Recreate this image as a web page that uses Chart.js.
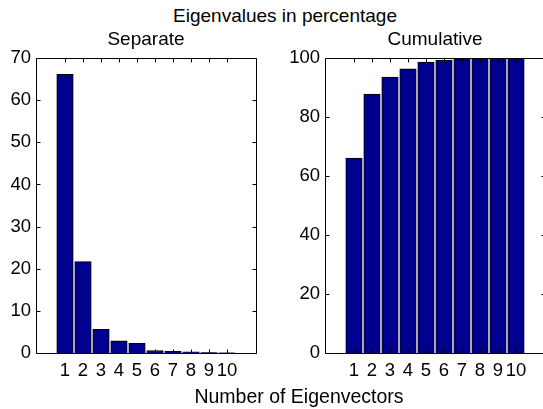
<!DOCTYPE html>
<html>
<head>
<meta charset="utf-8">
<title>Eigenvalues in percentage</title>
<script src="https://cdn.jsdelivr.net/npm/chart.js@4/dist/chart.umd.min.js"></script>
<style>
    body {
        margin: 0;
        width: 543px;
        height: 409px;
        overflow: hidden;
        position: relative;
        background: #fff;
        font-family: "Liberation Sans", Arial, Helvetica, sans-serif;
    }
    canvas { position: absolute; top: 0; }
    .rotulo {
        position: absolute;
        font-size: 19px;
        line-height: 19px;
        color: #000;
        white-space: nowrap;
        transform: translateX(-50%);
    }
</style>
</head>
<body>

<div class="rotulo" style="left: 285px; top: 6px;">Eigenvalues in percentage</div>
<canvas id="graficoSeparado" width="270" height="409" style="left: 0;"></canvas>
<canvas id="graficoCumulativo" width="290" height="409" style="left: 270px;"></canvas>
<div class="rotulo" style="left: 299px; top: 387px; font-size: 19.5px;">Number of Eigenvectors</div>

<script>
// eigenvalue share of each eigenvector, in percent
var eigenvectorNumbers = [1, 2, 3, 4, 5, 6, 7, 8, 9, 10];
var separatePercent = [66.1, 21.7, 5.6, 2.9, 2.3, 0.6, 0.4, 0.25, 0.1, 0.05];
var cumulativePercent = [66.1, 87.8, 93.5, 96.3, 98.6, 99.2, 99.7, 99.8, 99.9, 100];

var separateYTicks = [0, 10, 20, 30, 40, 50, 60, 70];
var cumulativeYTicks = [0, 20, 40, 60, 80, 100];
var xTickLabels = ['1', '2', '3', '4', '5', '6', '7', '8', '9', '10'];

var fonte = '"Liberation Sans", Arial, Helvetica, sans-serif';

// box around the axes, ticks pointing inwards, subplot title on top
var caixaEixos = {
    id: 'caixaEixos',
    afterDraw: function (chart, args, opts) {
        var ctx = chart.ctx;
        var a = chart.chartArea;
        var sx = chart.scales.x;
        var sy = chart.scales.y;
        var esq = Math.round(a.left) + 0.5;
        var dir = Math.round(a.right) + 0.5;
        var topo = Math.round(a.top) + 0.5;
        var base = Math.round(a.bottom) + 0.5;

        ctx.save();
        ctx.strokeStyle = '#000';
        ctx.lineWidth = 1;
        ctx.beginPath();
        ctx.rect(esq, topo, dir - esq, base - topo);

        sx.ticks.forEach(function (t) {
            var px = Math.round(sx.getPixelForValue(t.value)) + 0.5;
            ctx.moveTo(px, base);
            ctx.lineTo(px, base - 4);
            ctx.moveTo(px, topo);
            ctx.lineTo(px, topo + 4);
        });
        sy.ticks.forEach(function (t) {
            var py = Math.round(sy.getPixelForValue(t.value)) + 0.5;
            ctx.moveTo(esq, py);
            ctx.lineTo(esq + 4, py);
            ctx.moveTo(dir, py);
            ctx.lineTo(dir - 4, py);
        });
        ctx.stroke();

        ctx.fillStyle = '#000';
        ctx.font = '19px ' + fonte;
        ctx.textAlign = 'center';
        ctx.textBaseline = 'alphabetic';
        ctx.fillText(opts.texto, (a.left + a.right) / 2, opts.linha);
        ctx.restore();
    }
};

function criarGrafico(idCanvas, titulo, valores, ticksY, maxY, larguraY, margemDir) {

    var contexto = document.getElementById(idCanvas).getContext('2d');

    return new Chart(contexto, {
        type: 'bar',
        data: {
            datasets: [{
                data: eigenvectorNumbers.map(function (n, i) {
                    return { x: n, y: valores[i] };
                }),
                backgroundColor: '#00008f',
                borderColor: '#000000',
                borderWidth: 1,
                barThickness: 16.5
            }]
        },
        options: {
            responsive: false,
            animation: false,
            events: [],
            layout: {
                padding: { left: 0, right: margemDir, top: 58, bottom: 0 }
            },
            plugins: {
                legend: { display: false },
                title: { display: false },
                tooltip: { enabled: false },
                caixaEixos: { texto: titulo, linha: 45 }
            },
            scales: {
                x: {
                    type: 'linear',
                    min: 0,
                    max: 11,
                    grid: { display: false, drawTicks: false },
                    border: { display: false },
                    afterBuildTicks: function (escala) {
                        escala.ticks = eigenvectorNumbers.map(function (n) { return { value: n }; });
                    },
                    afterFit: function (escala) { escala.height = 56; },
                    ticks: {
                        autoSkip: false,
                        maxRotation: 0,
                        padding: 7,
                        color: '#000',
                        font: { family: fonte, size: 18.5 },
                        callback: function (valor, indice) { return xTickLabels[indice]; }
                    }
                },
                y: {
                    min: 0,
                    max: maxY,
                    grid: { display: false, drawTicks: false },
                    border: { display: false },
                    afterBuildTicks: function (escala) {
                        escala.ticks = ticksY.map(function (v) { return { value: v }; });
                    },
                    afterFit: function (escala) { escala.width = larguraY; },
                    ticks: {
                        padding: 5,
                        color: '#000',
                        font: { family: fonte, size: 18.5 }
                    }
                }
            }
        },
        plugins: [caixaEixos]
    });
}

document.addEventListener('DOMContentLoaded', function () {
    criarGrafico('graficoSeparado', 'Separate', separatePercent, separateYTicks, 70, 36, 14);
    criarGrafico('graficoCumulativo', 'Cumulative', cumulativePercent, cumulativeYTicks, 100, 55, 15);
});
</script>
</body>
</html>
